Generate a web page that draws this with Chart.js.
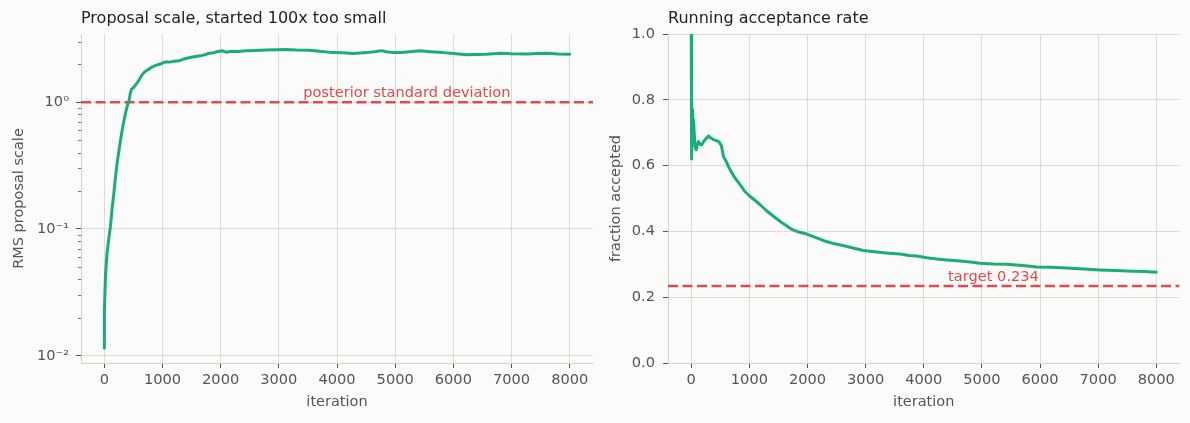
<!DOCTYPE html>
<html><head><meta charset="utf-8">
<script src="https://cdn.jsdelivr.net/npm/chart.js@4.4.1/dist/chart.umd.min.js"></script>
<style>
html,body{margin:0;padding:0;background:#fbfbf9;width:1190px;height:423px;overflow:hidden}
canvas{position:absolute;top:0}
#c1{left:0}
#c2{left:600px}
</style></head><body>
<canvas id="c1" width="600" height="423"></canvas>
<canvas id="c2" width="590" height="423"></canvas>
<script>
// ---------- data ----------
const scaleIter = [0,2,20,48,80,106,135,164,190,221,260,307,340,365,395,425,452,470,500,538,600,640,681,730,780,830,883,950,1000,1056,1120,1200,1285,1350,1420,1515,1573,1650,1720,1803,1860,1931,2032,2090,2200,2300,2435,2600,2780,2950,3125,3300,3528,3700,3930,4100,4275,4400,4505,4650,4764,4850,4965,5100,5250,5425,5600,5828,6000,6230,6400,6575,6805,7000,7265,7450,7610,7800,8000];
const scaleValue = [0.0115,0.0224,0.042,0.065,0.085,0.105,0.145,0.19,0.25,0.33,0.44,0.60,0.72,0.82,0.93,1.03,1.20,1.27,1.30,1.37,1.50,1.62,1.71,1.78,1.84,1.90,1.95,1.99,2.03,2.08,2.07,2.10,2.12,2.18,2.22,2.27,2.29,2.32,2.36,2.43,2.44,2.50,2.54,2.48,2.52,2.51,2.54,2.56,2.58,2.59,2.60,2.58,2.57,2.52,2.46,2.45,2.42,2.44,2.46,2.50,2.55,2.50,2.46,2.47,2.50,2.54,2.50,2.46,2.42,2.37,2.38,2.39,2.43,2.41,2.40,2.42,2.43,2.40,2.39];

const accIter = [0,3,6,10,15,20,30,40,50,65,84,100,124,150,182,220,260,296,330,382,430,480,520,554,600,669,750,841,920,1013,1100,1185,1300,1414,1550,1720,1850,1987,2100,2293,2450,2611,2800,2962,3150,3312,3450,3591,3750,3880,4050,4224,4400,4624,4800,4968,5200,5427,5700,5943,6200,6459,6750,7032,7300,7605,7800,8000];
const accValue = [1.0,0.90,0.67,0.62,0.70,0.77,0.68,0.74,0.70,0.66,0.648,0.66,0.673,0.665,0.663,0.675,0.683,0.690,0.685,0.679,0.676,0.672,0.66,0.628,0.613,0.587,0.563,0.542,0.522,0.506,0.494,0.481,0.462,0.446,0.428,0.407,0.398,0.392,0.384,0.371,0.363,0.357,0.349,0.342,0.338,0.335,0.333,0.331,0.327,0.325,0.320,0.316,0.313,0.310,0.307,0.303,0.301,0.300,0.296,0.292,0.291,0.289,0.286,0.283,0.281,0.279,0.278,0.276];

const xTicks = [0,1000,2000,3000,4000,5000,6000,7000,8000];
const logMajorTicks = [0.01,0.1,1];
const logMinorTicks = [0.02,0.03,0.04,0.05,0.06,0.07,0.08,0.09,0.2,0.3,0.4,0.5,0.6,0.7,0.8,0.9,2,3];
const accTicks = [0,0.2,0.4,0.6,0.8,1.0];
const posteriorSD = 1.0;
const targetRate = 0.234;
const refLabelIter = 5200;

// ---------- style ----------
const FONT = '"DejaVu Sans", sans-serif';
const GREEN = '#1aad79';
const RED = '#e5484d';
const GRID = '#dddbd6';
const SPINE = '#d3d1cc';
const TICKC = '#555555';
const TEXTC = '#555555';
Chart.defaults.font.family = FONT;

const titlePlugin = {
  id: 'panelTitle',
  afterDraw(chart, args, opts) {
    const ctx = chart.ctx;
    ctx.save();
    ctx.font = '16px ' + FONT;
    ctx.fillStyle = '#222222';
    ctx.textBaseline = 'middle';
    ctx.textAlign = 'left';
    ctx.fillText(opts.text, chart.chartArea.left, 18.5);
    ctx.restore();
  }
};
const refLabelPlugin = {
  id: 'refLabel',
  afterDatasetsDraw(chart, args, opts) {
    const ctx = chart.ctx;
    const x = chart.scales.x.getPixelForValue(opts.x);
    const y = chart.scales.y.getPixelForValue(opts.y);
    ctx.save();
    ctx.font = '14.6px ' + FONT;
    ctx.fillStyle = RED;
    ctx.textAlign = 'center';
    ctx.textBaseline = 'alphabetic';
    ctx.fillText(opts.text, x, y - 5.5);
    ctx.restore();
  }
};
const minorTickPlugin = {
  id: 'minorTicks',
  afterDraw(chart, args, opts) {
    if (!opts.values) return;
    const s = chart.scales.y;
    const ctx = chart.ctx;
    ctx.save();
    ctx.strokeStyle = TICKC;
    ctx.lineWidth = 0.8;
    ctx.beginPath();
    opts.values.forEach(v => {
      if (v < s.min || v > s.max) return;
      const y = Math.round(s.getPixelForValue(v)) + 0.5;
      ctx.moveTo(s.right - 3, y);
      ctx.lineTo(s.right, y);
    });
    ctx.stroke();
    ctx.restore();
  }
};

const supers = {'-2':'10\u207B\u00B2','-1':'10\u207B\u00B9','0':'10\u2070'};

function xScale() {
  return {
    type: 'linear', min: -400, max: 8400,
    afterBuildTicks: s => { s.ticks = xTicks.map(v => ({value: v})); },
    afterFit: s => { s.height = 60; },
    ticks: { font: {size: 14.6}, color: TEXTC, padding: 3.5, maxRotation: 0, autoSkip: false, callback: v => String(v) },
    grid: { color: GRID, lineWidth: 1, tickColor: TICKC, tickLength: 5, tickWidth: 1 },
    border: { display: true, color: SPINE, width: 1 },
    title: { display: true, text: 'iteration', color: TEXTC, font: {size: 14.5}, padding: {top: 0, bottom: 11.6} }
  };
}
function lineDatasets(xs, ys, ref) {
  return [
    { data: xs.map((x, i) => ({x: x, y: ys[i]})), borderColor: GREEN, borderWidth: 3, pointRadius: 0,
      tension: 0, borderJoinStyle: 'round', borderCapStyle: 'round', fill: false },
    { data: [{x: -400, y: ref}, {x: 8400, y: ref}], borderColor: RED, borderWidth: 2.4, borderDash: [10, 4.5],
      pointRadius: 0, fill: false }
  ];
}

new Chart(document.getElementById('c1'), {
  type: 'line',
  data: { datasets: lineDatasets(scaleIter, scaleValue, posteriorSD) },
  options: {
    responsive: false, animation: false, events: [],
    layout: { padding: { top: 34, right: 7, left: 0, bottom: 0 } },
    plugins: {
      legend: { display: false }, tooltip: { enabled: false }, title: { display: false },
      panelTitle: { text: 'Proposal scale, started 100x too small' },
      refLabel: { text: 'posterior standard deviation', x: refLabelIter, y: posteriorSD },
      minorTicks: { values: logMinorTicks }
    },
    scales: {
      x: xScale(),
      y: {
        type: 'logarithmic', min: 0.00876, max: 3.45,
        afterBuildTicks: s => { s.ticks = logMajorTicks.map(v => ({value: v})); },
        afterFit: s => { s.width = 81; },
        ticks: { font: {size: 14.6}, color: TEXTC, padding: 7, autoSkip: false,
          callback: v => supers[String(Math.round(Math.log10(v)))] || '' },
        grid: { color: GRID, lineWidth: 1, tickColor: TICKC, tickLength: 5, tickWidth: 1 },
        border: { display: true, color: SPINE, width: 1 },
        title: { display: true, text: 'RMS proposal scale', color: TEXTC, font: {size: 14.5}, padding: {top: 10.3, bottom: 0} }
      }
    }
  },
  plugins: [titlePlugin, refLabelPlugin, minorTickPlugin]
});

new Chart(document.getElementById('c2'), {
  type: 'line',
  data: { datasets: lineDatasets(accIter, accValue, targetRate) },
  options: {
    responsive: false, animation: false, events: [],
    layout: { padding: { top: 34, right: 10.5, left: 0, bottom: 0 } },
    plugins: {
      legend: { display: false }, tooltip: { enabled: false }, title: { display: false },
      panelTitle: { text: 'Running acceptance rate' },
      refLabel: { text: 'target 0.234', x: refLabelIter, y: targetRate },
      minorTicks: {}
    },
    scales: {
      x: xScale(),
      y: {
        type: 'linear', min: 0, max: 1,
        afterBuildTicks: s => { s.ticks = accTicks.map(v => ({value: v})); },
        afterFit: s => { s.width = 68; },
        ticks: { font: {size: 14.6}, color: TEXTC, padding: 8, autoSkip: false, callback: v => v.toFixed(1) },
        grid: { color: GRID, lineWidth: 1, tickColor: TICKC, tickLength: 5, tickWidth: 1 },
        border: { display: true, color: SPINE, width: 1 },
        title: { display: true, text: 'fraction accepted', color: TEXTC, font: {size: 14.5}, padding: {top: 7.8, bottom: 0} }
      }
    }
  },
  plugins: [titlePlugin, refLabelPlugin, minorTickPlugin]
});
</script>
</body></html>
